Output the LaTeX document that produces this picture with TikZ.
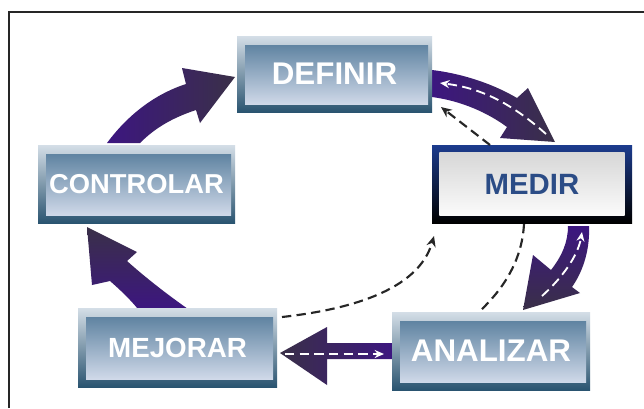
\documentclass[tikz,border=0pt]{standalone}
\usepackage{fontspec}
\newfontfamily\boxfont{Liberation Sans}
\usetikzlibrary{arrows.meta,calc}

\definecolor{frameTop}{HTML}{D4DEE7}
\definecolor{frameBot}{HTML}{2A5470}
\definecolor{innerTop}{HTML}{4F7797}
\definecolor{innerMid}{HTML}{A3B8CC}
\definecolor{innerBot}{HTML}{DEE4F2}
\definecolor{medTop}{HTML}{1C3C8E}
\definecolor{medText}{HTML}{2B4C86}
\definecolor{shaftCol}{HTML}{3C1680}
\definecolor{headCol}{HTML}{3A3048}

\tikzset{
  stagebox/.style={rectangle, inner sep=0pt, text=white,
    top color=frameTop, bottom color=frameBot,
    path picture={\shade[top color=innerTop, middle color=innerMid, bottom color=innerBot]
      ([xshift=6pt,yshift=-7pt]path picture bounding box.north west) rectangle
      ([xshift=-3pt,yshift=5.5pt]path picture bounding box.south east);}},
  medbox/.style={rectangle, inner sep=0pt, text=medText,
    top color=medTop, bottom color=black,
    path picture={\shade[top color=gray!35, middle color=white, bottom color=white]
      ([xshift=5.5pt,yshift=-5.5pt]path picture bounding box.north west) rectangle
      ([xshift=-5.5pt,yshift=5.5pt]path picture bounding box.south east);}},
  boxtext/.style={font=\boxfont\bfseries\fontsize{#1}{#1}\selectfont},
  bigarrow/.style={draw=none},
  linkdash/.style={draw=black!85, line width=1.6pt, dash pattern=on 7pt off 4pt,
    -{Stealth[length=8pt,width=7pt]}},
  linkdashplain/.style={draw=black!85, line width=1.6pt, dash pattern=on 7pt off 4pt},
  innerdash/.style={draw=white, line width=1.4pt, dash pattern=on 7pt off 4pt,
    -{Stealth[length=7pt,width=6pt]}},
}

\begin{document}
\begin{tikzpicture}[x=0.75pt,y=-0.75pt]
\useasboundingbox (0,0) rectangle (644,408);
\fill[white] (0,0) rectangle (644,408);

% open frame along the top and left
\draw[line width=1.5pt, black!85] (9,408) -- (9,12) -- (644,12);

% thick curved arrows of the cycle
% CONTROLAR -> DEFINIR
\shade[bigarrow, left color=shaftCol, right color=headCol]
  (107,143) .. controls (130,112) and (158,93) .. (186,84)
  -- (182,68) -- (235,77) -- (200,123) -- (196,110)
  .. controls (172,118) and (155,128) .. (140,143) -- cycle;
% DEFINIR -> MEDIR
\shade[bigarrow, left color=shaftCol, right color=headCol]
  (432,70) .. controls (465,74) and (495,85) .. (517,98)
  -- (528,88) -- (555,142) -- (500,138) -- (507,127)
  .. controls (488,113) and (462,101) .. (432,97) -- cycle;
% MEDIR -> ANALIZAR
\shade[bigarrow, top color=shaftCol, bottom color=headCol]
  (568,226) .. controls (568,242) and (562,256) .. (551,270)
  -- (533,255) -- (523,310) -- (580,293) -- (572,287)
  .. controls (584,270) and (590,248) .. (589,226) -- cycle;
% ANALIZAR -> MEJORAR
\shade[bigarrow, left color=headCol, right color=shaftCol]
  (394,343) -- (327,343) -- (327,327) -- (280,353) -- (327,385)
  -- (327,359) -- (394,359) -- cycle;
% MEJORAR -> CONTROLAR
\shade[bigarrow, top color=headCol, bottom color=shaftCol]
  (138,309) .. controls (128,297) and (118,288) .. (110,281)
  -- (92,285) -- (87,227) -- (137,252) -- (127,261)
  .. controls (146,278) and (168,295) .. (188,309) -- cycle;

% stage boxes
\node[stagebox, boxtext=23.5pt, minimum width=195*0.75pt, minimum height=76*0.75pt]
  (definir) at (334.5,74) {\raisebox{-1pt}{DEFINIR}};
\node[medbox, boxtext=22pt, minimum width=200*0.75pt, minimum height=78*0.75pt]
  (medir) at (532,184) {MEDIR};
\node[stagebox, boxtext=20.5pt, minimum width=197*0.75pt, minimum height=78*0.75pt]
  (controlar) at (136.5,184) {CONTROLAR};
\node[stagebox, boxtext=20.8pt, minimum width=199*0.75pt, minimum height=79*0.75pt]
  (mejorar) at (177.5,347.5) {MEJORAR};
\node[stagebox, boxtext=23.5pt, minimum width=198*0.75pt, minimum height=78*0.75pt]
  (analizar) at (491,351) {ANALIZAR};

% dashed feedback links
\coordinate (mdTop) at (490,145);
\coordinate (dfCorner) at (441,107);
\draw[linkdash] (mdTop) -- (dfCorner);

\coordinate (mdBottom) at (524,224);
\coordinate (anTop) at (480,311);
\draw[linkdashplain] (mdBottom) .. controls (522,262) and (502,290) .. (anTop);

\coordinate (mjCorner) at (282,317);
\coordinate (mdCorner) at (434,236);
\draw[linkdash] (mjCorner) .. controls (345,310) and (418,292) .. (mdCorner);

% white dashes running back inside the thick arrows
\coordinate (w1s) at (546,134);
\coordinate (w1e) at (440,83);
\draw[innerdash] (w1s) .. controls (510,102) and (480,88) .. (w1e);

\coordinate (w2s) at (542,296);
\coordinate (w2e) at (582,232);
\draw[innerdash] (w2s) .. controls (562,278) and (578,256) .. (w2e);

\coordinate (w3s) at (285,354);
\coordinate (w3e) at (384,354);
\draw[innerdash] (w3s) -- (w3e);
\end{tikzpicture}
\end{document}
